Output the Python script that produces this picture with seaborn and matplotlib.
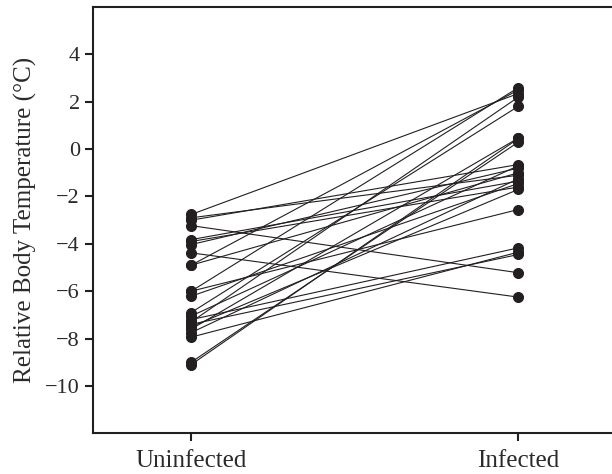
import pandas as pd
import numpy as np
import matplotlib
matplotlib.use("Agg")
import matplotlib.pyplot as plt
import seaborn as sns

# paired temperatures, one entry per animal
uninfected = [-2.76, -3.0, -3.23, -2.9, -3.82, -4.03, -3.9, -4.38, -4.9, -4.9,
              -6.0, -6.21, -6.0, -6.9, -7.05, -7.2, -7.4, -7.5, -7.6, -7.75,
              -7.94, -9.0, -9.1, -7.3]
infected = [2.35, -0.65, -5.22, -1.1, -1.35, -0.8, -1.6, -6.25, 2.5, -1.0,
            2.6, -1.45, -2.55, 1.81, -0.7, -4.17, -4.45, -1.7, 0.47, -1.25,
            -4.35, 0.3, 0.45, 2.2]
groups = ["Uninfected", "Infected"]
yticks = [-10, -8, -6, -4, -2, 0, 2, 4]

n = len(uninfected)
df = pd.DataFrame({
    "animal": list(range(n)) * 2,
    "group": [groups[0]] * n + [groups[1]] * n,
    "temp": uninfected + infected,
})

sns.set_style("ticks")
plt.rcParams["font.family"] = ["Liberation Serif", "DejaVu Serif"]

ink = "#231f20"
fig = plt.figure(figsize=(6.12, 4.74), dpi=100)
ax = fig.add_axes([0.152, 0.086, 0.85, 0.899])

sns.lineplot(data=df, x="group", y="temp", units="animal", estimator=None,
             color=ink, lw=0.8, marker="o", markersize=7.2,
             markeredgecolor=ink, markerfacecolor=ink, ax=ax)

ax.set_xlim(-0.3, 1.29)
ax.set_ylim(-12, 6)
ax.set_yticks(yticks)
ax.set_yticklabels([str(t).replace("-", "\u2212") for t in yticks], fontsize=16)
ax.set_xticks([0, 1])
ax.set_xticklabels(groups, fontsize=18)
ax.set_xlabel("")
ax.set_ylabel("Relative Body Temperature (\u00b0C)", fontsize=18, color="#2a2a2a")
ax.yaxis.labelpad = 6

for side in ["left", "top", "bottom"]:
    ax.spines[side].set_linewidth(1.5)
    ax.spines[side].set_color(ink)
ax.spines["right"].set_visible(False)
ax.tick_params(axis="both", width=1.5, length=6, color=ink, labelcolor="#2a2a2a")
ax.tick_params(axis="x", pad=6)

fig.savefig("out.png", dpi=100)
